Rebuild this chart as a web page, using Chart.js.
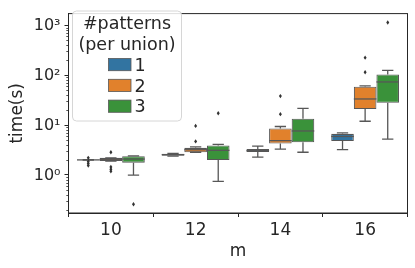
<!DOCTYPE html>
<html>
<head>
<meta charset="utf-8">
<script src="https://cdn.jsdelivr.net/npm/chart.js@4/dist/chart.umd.min.js"></script>
<style>
html,body{margin:0;padding:0;background:#fff;}
#wrap{width:415px;height:268px;}
</style>
</head>
<body>
<div id="wrap"><canvas id="c" width="415" height="268"></canvas></div>
<script>
// ---- data ----
const categories = ['10', '12', '14', '16'];
const seriesLabels = ['1', '2', '3'];
const seriesColors = ['#3274a1', '#e1812c', '#3a923a'];
const yTickValues = [1, 10, 100, 1000];
const yTickLabels = ['10⁰', '10¹', '10²', '10³'];

// series "1"
const s1Low = [1.98, 2.38, 2.28, 3.2];
const s1Q1 = [1.98, 2.41, 2.89, 4.78];
const s1Med = [2.0, 2.55, 3.06, 5.9];
const s1Q3 = [2.02, 2.67, 3.3, 6.66];
const s1High = [2.03, 2.7, 3.77, 6.96];
const s1Out = [[2.2, 1.85, 1.7, 1.55], [], [], []];
// series "2"
const s2Low = [1.9, 2.85, 3.3, 11.9];
const s2Q1 = [1.9, 2.85, 4.26, 20.9];
const s2Med = [2.02, 3.2, 4.87, 33.3];
const s2Q3 = [2.2, 3.5, 8.55, 58.5];
const s2High = [2.2, 3.66, 9.35, 61];
const s2Out = [[2.85, 1.45, 1.3, 1.18], [9.6, 4.7], [38, 16.5], [224, 114]];
// series "3"
const s3Low = [0.99, 0.745, 2.85, 5.23];
const s3Q1 = [1.76, 1.99, 4.51, 27.8];
const s3Med = [2.08, 3.11, 7.6, 73];
const s3Q3 = [2.38, 3.9, 13.4, 103];
const s3High = [2.4, 4.1, 21.6, 125];
const s3Out = [[0.258], [17.2], [], [1138]];

const series = [
  {low: s1Low, q1: s1Q1, med: s1Med, q3: s1Q3, high: s1High, out: s1Out},
  {low: s2Low, q1: s2Q1, med: s2Med, q3: s2Q3, high: s2High, out: s2Out},
  {low: s3Low, q1: s3Q1, med: s3Med, q3: s3Q3, high: s3High, out: s3Out}
];

const FONT = 'DejaVu Sans';
const TEXT = '#262626';
const LINE = '#575757';
Chart.defaults.font.family = FONT;
Chart.defaults.font.size = 17;
Chart.defaults.color = TEXT;

const boxPlugin = {
  id: 'boxes',
  afterDatasetsDraw(chart) {
    const ctx = chart.ctx;
    const ys = chart.scales.y;
    ctx.save();
    series.forEach((s, d) => {
      const meta = chart.getDatasetMeta(d);
      meta.data.forEach((bar, i) => {
        const p = bar.getProps(['x', 'width'], true);
        const cx = p.x, hw = p.width / 2;
        const yq1 = ys.getPixelForValue(s.q1[i]);
        const yq3 = ys.getPixelForValue(s.q3[i]);
        const ylo = ys.getPixelForValue(s.low[i]);
        const yhi = ys.getPixelForValue(s.high[i]);
        const ymed = ys.getPixelForValue(s.med[i]);
        ctx.strokeStyle = LINE;
        ctx.lineWidth = 1.3;
        ctx.beginPath();
        ctx.moveTo(cx, yq1); ctx.lineTo(cx, ylo);
        ctx.moveTo(cx, yq3); ctx.lineTo(cx, yhi);
        ctx.moveTo(cx - hw / 2, ylo); ctx.lineTo(cx + hw / 2, ylo);
        ctx.moveTo(cx - hw / 2, yhi); ctx.lineTo(cx + hw / 2, yhi);
        ctx.stroke();
        ctx.beginPath();
        ctx.moveTo(cx - hw, ymed); ctx.lineTo(cx + hw, ymed);
        ctx.stroke();
        ctx.fillStyle = '#333';
        s.out[i].forEach(v => {
          const yo = ys.getPixelForValue(v);
          ctx.beginPath();
          ctx.moveTo(cx, yo - 2.2);
          ctx.lineTo(cx + 1.5, yo);
          ctx.lineTo(cx, yo + 2.2);
          ctx.lineTo(cx - 1.5, yo);
          ctx.closePath();
          ctx.fill();
        });
      });
    });
    ctx.restore();
  },
  afterDraw(chart) {
    const ctx = chart.ctx;
    const a = chart.chartArea;
    const ys = chart.scales.y;
    ctx.save();
    // minor log ticks
    ctx.strokeStyle = TEXT;
    ctx.lineWidth = 0.8;
    ctx.beginPath();
    [0.1, 1, 10, 100, 1000].forEach(dec => {
      for (let k = 2; k <= 9; k++) {
        const v = dec * k;
        if (v < ys.min || v > ys.max) continue;
        const py = Math.round(ys.getPixelForValue(v)) + 0.5;
        ctx.moveTo(a.left, py); ctx.lineTo(a.left - 2.2, py);
      }
    });
    ctx.stroke();
    // frame
    ctx.strokeStyle = TEXT;
    ctx.lineWidth = 1;
    ctx.strokeRect(a.left, a.top, a.right - a.left, a.bottom - a.top);
    // legend
    const lx = 72.5, ly = 11, lw = 109, lh = 110, r = 4;
    ctx.fillStyle = 'rgba(255,255,255,0.85)';
    ctx.strokeStyle = '#d6d6d6';
    ctx.lineWidth = 1;
    ctx.beginPath();
    ctx.roundRect(lx, ly, lw, lh, r);
    ctx.fill();
    ctx.stroke();
    ctx.fillStyle = TEXT;
    ctx.font = '17.5px "' + FONT + '"';
    ctx.textAlign = 'center';
    ctx.textBaseline = 'alphabetic';
    ctx.fillText('#patterns', lx + lw / 2, 28.5);
    ctx.fillText('(per union)', lx + lw / 2, 49.5);
    ctx.textAlign = 'left';
    seriesLabels.forEach((lab, k) => {
      const base = 70.7 + k * 20.8;
      ctx.fillStyle = seriesColors[k];
      ctx.strokeStyle = LINE;
      ctx.lineWidth = 0.8;
      ctx.fillRect(108.5, base - 12.2, 22.5, 12.2);
      ctx.strokeRect(108.5, base - 12.2, 22.5, 12.2);
      ctx.fillStyle = TEXT;
      ctx.fillText(lab, 134.5, base);
    });
    ctx.restore();
  }
};

const datasets = series.map((s, d) => ({
  label: seriesLabels[d],
  data: s.q1.map((v, i) => [v, s.q3[i]]),
  backgroundColor: seriesColors[d],
  borderColor: LINE,
  borderWidth: 1.1,
  borderSkipped: false,
  categoryPercentage: 0.8,
  barPercentage: 1.0
}));

new Chart(document.getElementById('c'), {
  type: 'bar',
  data: {labels: categories, datasets},
  plugins: [boxPlugin],
  options: {
    responsive: false,
    animation: false,
    devicePixelRatio: 1,
    layout: {padding: {top: 7, right: 7.5, left: 0, bottom: 0}},
    plugins: {legend: {display: false}, tooltip: {enabled: false}},
    scales: {
      x: {
        type: 'category',
        offset: true,
        grid: {display: true, drawOnChartArea: false, drawTicks: true, tickLength: 4, color: TEXT},
        border: {display: true, color: TEXT},
        ticks: {padding: 3, color: TEXT, font: {size: 17}},
        title: {display: true, text: 'm', color: TEXT, font: {size: 17}, padding: {top: 0, bottom: 6}},
        afterFit(scale) { scale.height = 55; }
      },
      y: {
        type: 'logarithmic',
        min: 0.1726,
        max: 1710,
        grid: {display: true, drawOnChartArea: false, drawTicks: true, tickLength: 4, color: TEXT},
        border: {display: true, color: TEXT},
        afterBuildTicks(scale) {
          scale.ticks = yTickValues.map(v => ({value: v, major: true}));
        },
        ticks: {
          padding: 4,
          labelOffset: 1,
          color: TEXT,
          font: {size: 16},
          autoSkip: false,
          callback(value) {
            const idx = yTickValues.indexOf(value);
            return idx >= 0 ? yTickLabels[idx] : '';
          }
        },
        title: {display: true, text: 'time(s)', color: TEXT, font: {size: 17}, padding: {top: 7, bottom: 0}},
        afterFit(scale) { scale.width = 68.5; }
      }
    }
  }
});
</script>
</body>
</html>
